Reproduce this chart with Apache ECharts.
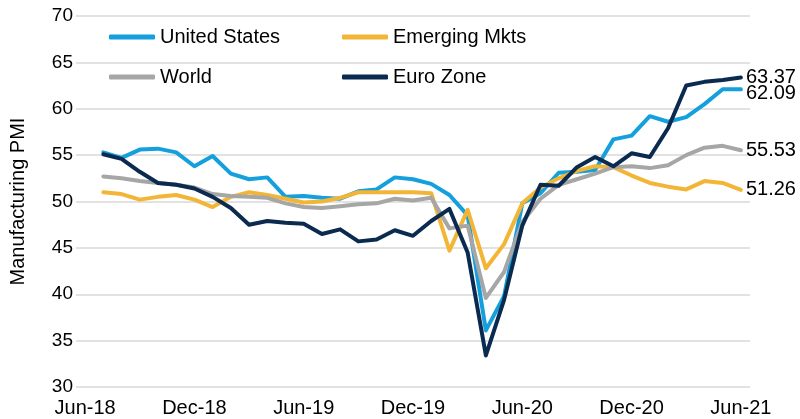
<!DOCTYPE html>
<html>
<head>
<meta charset="utf-8">
<script src="https://cdn.jsdelivr.net/npm/echarts@6/dist/echarts.min.js"></script>
<style>
  html, body { margin: 0; padding: 0; background: #fff; }
  #chart { width: 800px; height: 419px; }
</style>
</head>
<body>
<div id="chart"></div>
<script>
// months Jun-18 .. Jun-21 (first month has no data)
const months = [
  'Jun-18', 'Jul-18', 'Aug-18', 'Sep-18', 'Oct-18', 'Nov-18',
  'Dec-18', 'Jan-19', 'Feb-19', 'Mar-19', 'Apr-19', 'May-19',
  'Jun-19', 'Jul-19', 'Aug-19', 'Sep-19', 'Oct-19', 'Nov-19',
  'Dec-19', 'Jan-20', 'Feb-20', 'Mar-20', 'Apr-20', 'May-20',
  'Jun-20', 'Jul-20', 'Aug-20', 'Sep-20', 'Oct-20', 'Nov-20',
  'Dec-20', 'Jan-21', 'Feb-21', 'Mar-21', 'Apr-21', 'May-21',
  'Jun-21'
];

const unitedStates = [null,
  55.3, 54.7, 55.6, 55.7, 55.3, 53.8,
  54.9, 53.0, 52.4, 52.6, 50.5, 50.6, 50.4, 50.3, 51.1, 51.3, 52.6, 52.4,
  51.9, 50.7, 48.5, 36.1, 39.8, 49.8, 50.9, 53.1, 53.2, 53.4, 56.7, 57.1,
  59.2, 58.6, 59.1, 60.5, 62.1, 62.09];

const emergingMkts = [null,
  51.0, 50.8, 50.2, 50.5, 50.7, 50.2,
  49.4, 50.5, 51.0, 50.7, 50.3, 49.9, 50.0, 50.4, 51.0, 51.0, 51.0, 51.0,
  50.9, 44.7, 49.1, 42.8, 45.4, 49.8, 51.5, 52.5, 53.3, 53.8, 53.7, 52.8,
  52.0, 51.6, 51.3, 52.2, 52.0, 51.26];

const world = [null,
  52.7, 52.5, 52.2, 52.0, 51.8, 51.5,
  50.8, 50.6, 50.5, 50.4, 49.8, 49.4, 49.3, 49.5, 49.7, 49.8, 50.3, 50.1,
  50.4, 47.1, 47.4, 39.6, 42.4, 47.8, 50.3, 51.8, 52.4, 53.0, 53.7, 53.8,
  53.6, 53.9, 55.0, 55.8, 56.0, 55.53];

const euroZone = [null,
  55.1, 54.6, 53.2, 52.0, 51.8, 51.4,
  50.5, 49.3, 47.5, 47.9, 47.7, 47.6, 46.5, 47.0, 45.7, 45.9, 46.9, 46.3,
  47.9, 49.2, 44.5, 33.4, 39.4, 47.4, 51.8, 51.7, 53.7, 54.8, 53.8, 55.2,
  54.8, 57.9, 62.5, 62.9, 63.1, 63.37];

const colors = {
  us: '#14a0dc',
  em: '#f2b536',
  world: '#a6a6a6',
  euro: '#0b2a50'
};

const font = "'Liberation Sans', Arial, sans-serif";

function lineSeries(name, data, color, labelOffset) {
  return {
    name: name,
    type: 'line',
    data: data,
    showSymbol: false,
    symbol: 'none',
    lineStyle: { color: color, width: 4, cap: 'round', join: 'round' },
    itemStyle: { color: color },
    endLabel: {
      show: true,
      formatter: function (p) { return p.value; },
      distance: 5,
      offset: labelOffset || [0, 0],
      color: '#000',
      fontFamily: font,
      fontSize: 20
    },
    emphasis: { disabled: true }
  };
}

const legendText = { color: '#000', fontFamily: font, fontSize: 20, lineHeight: 20 };

const option = {
  animation: false,
  grid: { left: 70, right: 50, top: 16, bottom: 32 },
  legend: [
    {
      data: ['United States', 'World'],
      orient: 'vertical',
      left: 104,
      top: 22,
      itemWidth: 46,
      itemHeight: 5,
      itemGap: 20,
      icon: 'roundRect',
      textStyle: legendText
    },
    {
      data: ['Emerging Mkts', 'Euro Zone'],
      orient: 'vertical',
      left: 337,
      top: 22,
      itemWidth: 46,
      itemHeight: 5,
      itemGap: 20,
      icon: 'roundRect',
      textStyle: legendText
    }
  ],
  xAxis: {
    type: 'category',
    data: months,
    boundaryGap: true,
    axisLine: { show: false },
    axisTick: { show: false },
    axisLabel: {
      interval: 5,
      margin: 11,
      color: '#000',
      fontFamily: font,
      fontSize: 20
    }
  },
  yAxis: {
    type: 'value',
    min: 30,
    max: 70,
    interval: 5,
    name: 'Manufacturing PMI',
    nameLocation: 'middle',
    nameGap: 48,
    nameTextStyle: { color: '#000', fontFamily: font, fontSize: 20 },
    axisLine: { show: false },
    axisTick: { show: false },
    axisLabel: { margin: 3, color: '#000', fontFamily: font, fontSize: 19 },
    splitLine: { lineStyle: { color: '#d9d9d9', width: 1.5 } }
  },
  series: [
    lineSeries('United States', unitedStates, colors.us, [0, 4]),
    lineSeries('Emerging Mkts', emergingMkts, colors.em),
    lineSeries('World', world, colors.world),
    lineSeries('Euro Zone', euroZone, colors.euro)
  ]
};

const myChart = echarts.init(document.getElementById('chart'));
myChart.setOption(option);
</script>
</body>
</html>
